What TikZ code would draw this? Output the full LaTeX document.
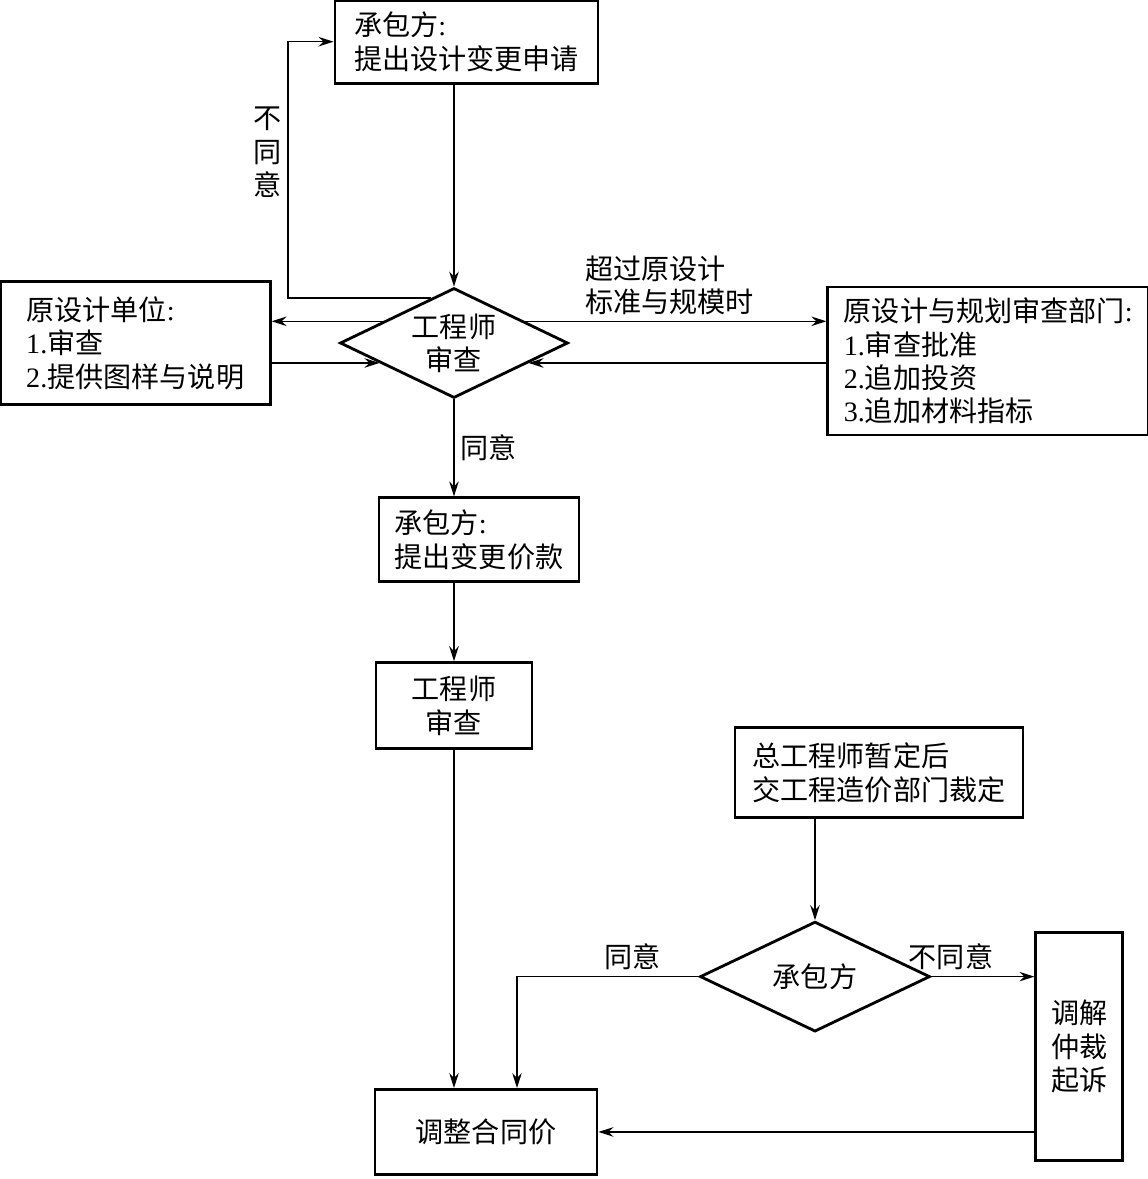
\documentclass[tikz,border=0pt]{standalone}
\usepackage{fontspec}
\setmainfont{Noto Sans CJK SC}
\newfontfamily\lat{Liberation Serif}
\usetikzlibrary{shapes.geometric,positioning,arrows.meta}

\begin{document}
\begin{tikzpicture}[>={Stealth[length=3mm,width=1.9mm,inset=1mm]},line width=0.9pt,
  font=\fontsize{16}{19}\selectfont,
  block/.style={draw,line width=1.6pt,align=left,inner sep=0pt},
  decision/.style={draw,diamond,aspect=2.07,line width=1.6pt,align=center,inner sep=0pt,
    minimum width=4.56cm,minimum height=2.2cm}]
  \useasboundingbox (-9.08,-16.72) rectangle (13.88,6.86);
  \node[decision] (dia) at (0,0) {工程师\\审查};
  \node[block,minimum width=5.26cm,minimum height=1.66cm,above=4.04cm of dia,xshift=0.25cm] (req)
    {承包方{\lat :}\\提出设计变更申请};
  \node[block,minimum width=5.4cm,minimum height=2.46cm,left=1.34cm of dia] (orig)
    {原设计单位{\lat :}\\{\lat 1.}审查\\{\lat 2.}提供图样与说明};
  \node[block,minimum width=6.42cm,minimum height=2.96cm,right=5.14cm of dia,yshift=-0.36cm] (plan)
    {原设计与规划审查部门{\lat :}\\{\lat 1.}审查批准\\{\lat 2.}追加投资\\{\lat 3.}追加材料指标};
  \node[block,minimum width=4cm,minimum height=1.68cm,below=1.94cm of dia,xshift=0.5cm] (price)
    {承包方{\lat :}\\提出变更价款};
  \node[block,align=center,minimum width=3.12cm,minimum height=1.72cm,below=1.56cm of price,xshift=-0.5cm] (check)
    {工程师\\审查};
  \node[block,align=center,minimum width=4.44cm,minimum height=1.7cm,below=6.76cm of check,xshift=0.64cm] (adj)
    {调整合同价};
  \node[decision,minimum width=4.6cm,above=1.1cm of adj,xshift=6.58cm] (accept) {承包方};
  \node[block,minimum width=5.76cm,minimum height=1.8cm,above=2.02cm of accept,xshift=1.28cm] (ruling)
    {总工程师暂定后\\交工程造价部门裁定};
  \node[block,align=center,minimum width=1.74cm,minimum height=4.56cm,right=2.06cm of accept,yshift=-1.4cm] (dispute)
    {调解\\仲裁\\起诉};
  \coordinate (back) at (-3.32,0);

  \draw[->] (req.south -| dia.north) -- (dia.north);
  \draw[->] (dia.117) -- (dia.117 -| back) |- node[left,pos=0.284,align=center] {不\\同\\意} (req.west);
  \draw[->] (dia.163) -- (dia.163 -| orig.east);
  \draw[->] (orig.east |- dia.195) -- (dia.195);
  \draw[->] (dia.17) -- node[above,align=left,pos=0.48] {超过原设计\\标准与规模时} (dia.17 -| plan.west);
  \draw[->] (plan.west |- dia.345) -- (dia.345);
  \draw[->] (dia.south) -- node[right] {同意} (dia.south |- price.north);
  \draw[->] (price.south -| check.north) -- (check.north);
  \draw[->] (check.south) -- (check.south |- adj.north);
  \draw[->] (ruling.south -| accept.north) -- (accept.north);
  \draw[->] (accept.west) -| node[above,pos=0.183] {同意} ([xshift=0.62cm]adj.north);
  \draw[->] (accept.east) -- node[above,pos=0.19] {不同意} (accept.east -| dispute.west);
  \draw[->] (dispute.west |- adj.east) -- (adj.east);
\end{tikzpicture}
\end{document}
